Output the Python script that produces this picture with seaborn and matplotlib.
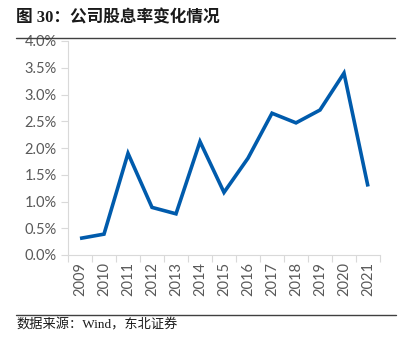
import matplotlib
matplotlib.use("Agg")
import matplotlib.pyplot as plt
import seaborn as sns
import pandas as pd
from matplotlib.ticker import FuncFormatter, FixedLocator
from matplotlib.lines import Line2D

years = ["2009", "2010", "2011", "2012", "2013", "2014", "2015",
         "2016", "2017", "2018", "2019", "2020", "2021"]
dividend_yield = [0.31, 0.39, 1.90, 0.89, 0.77, 2.12, 1.17,
                  1.81, 2.65, 2.47, 2.71, 3.40, 1.28]
y_ticks = [0.0, 0.5, 1.0, 1.5, 2.0, 2.5, 3.0, 3.5, 4.0]

title_text = "图 30：公司股息率变化情况"
source_text = "数据来源：Wind，东北证券"

sns.set_theme(style="white")
plt.rcParams['font.family'] = ['Liberation Serif', 'Noto Sans CJK SC', 'DejaVu Sans']

df = pd.DataFrame({"idx": range(len(years)), "year": years, "value": dividend_yield})

fig = plt.figure(figsize=(4.09, 3.49), dpi=100)
ax = fig.add_axes([68/409, 1-255/349, 312/409, 214/349])

sns.lineplot(data=df, x="idx", y="value", ax=ax, color="#005BAC",
             linewidth=2.6, solid_capstyle="butt", solid_joinstyle="miter")

ax.set_xlim(-0.5, len(years) - 0.5)
ax.set_ylim(0, 4.0)
ax.set_xlabel("")
ax.set_ylabel("")

ax.set_yticks(y_ticks)
ax.yaxis.set_major_formatter(FuncFormatter(lambda v, p: f"{v:.1f}%"))
ax.set_xticks(range(len(years)))
ax.set_xticklabels(years, rotation=90)
ax.xaxis.set_minor_locator(FixedLocator([i - 0.5 for i in range(len(years) + 1)]))

grey = "#d9d9d9"
for s in ["top", "right"]:
    ax.spines[s].set_visible(False)
for s in ["left", "bottom"]:
    ax.spines[s].set_color(grey)
    ax.spines[s].set_linewidth(0.8)

ax.tick_params(axis="y", which="major", length=5, width=0.8, color=grey,
               labelsize=10.5, labelcolor="#595959", pad=3, left=True)
ax.tick_params(axis="x", which="major", length=0, labelsize=10.5,
               labelcolor="#595959", pad=5)
ax.tick_params(axis="x", which="minor", length=5, width=0.8, color=grey, bottom=True)
for lab in ax.get_xticklabels() + ax.get_yticklabels():
    lab.set_family(["Lato", "DejaVu Sans"])

fig.text(16/409, 1-18/349, title_text, fontsize=12, fontweight="bold",
         ha="left", va="center", color="#1a1a1a")
fig.add_artist(Line2D([16/409, 395/409], [1-37.5/349, 1-37.5/349],
                      color="#404040", linewidth=1.0, transform=fig.transFigure))
fig.add_artist(Line2D([16/409, 396/409], [1-315/349, 1-315/349],
                      color="#404040", linewidth=1.0, transform=fig.transFigure))
fig.text(16/409, 1-325/349, source_text, fontsize=9.5, ha="left", va="center",
         color="#1a1a1a")

fig.savefig("out.png", dpi=100)
